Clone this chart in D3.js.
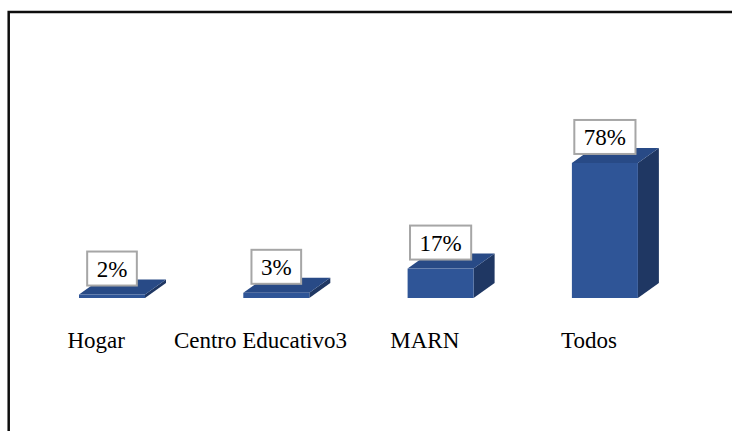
<!DOCTYPE html>
<html>
<head>
<meta charset="utf-8">
<script src="https://cdn.jsdelivr.net/npm/d3@7"></script>
<style>
  body { margin: 0; background: #fff; }
  svg { display: block; }
</style>
</head>
<body>
<script>
// chart data
var categories = ["Hogar", "Centro Educativo3", "MARN", "Todos"];
var values = [2, 3, 17, 78];
var valueLabels = ["2%", "3%", "17%", "78%"];

var width = 732, height = 431;
var depthX = 21, depthY = -15;   // 3d offset of the bars
var barW = 66;
var font = "'Liberation Serif'";

var svg = d3.select("body").append("svg")
    .attr("width", width)
    .attr("height", height);

// outer frame (runs off the right and bottom edge)
svg.append("rect")
    .attr("x", 8.7).attr("y", 12)
    .attr("width", 800).attr("height", 500)
    .attr("fill", "none")
    .attr("stroke", "#0d0d0d")
    .attr("stroke-width", 2.5);

var x = d3.scaleBand()
    .domain(categories)
    .range([14, 671.2])
    .padding(0);

var y = d3.scaleLinear()
    .domain([0, 80])
    .range([298, 159.5]);

var data = categories.map(function(c, i) {
    return { cat: c, value: values[i], label: valueLabels[i] };
});

var bar = svg.selectAll(".bar")
    .data(data)
    .enter()
    .append("g")
    .attr("class", "bar");

function pts(arr) {
    return arr.map(function(p) { return p.join(","); }).join(" ");
}

// side face
bar.append("polygon")
    .attr("points", function(d) {
        var x0 = x(d.cat) + 65, x1 = x0 + barW, yt = y(d.value), yb = y(0);
        return pts([[x1, yt], [x1 + depthX, yt + depthY], [x1 + depthX, yb + depthY], [x1, yb]]);
    })
    .attr("fill", "#1f3763");

// top face
bar.append("polygon")
    .attr("points", function(d) {
        var x0 = x(d.cat) + 65, x1 = x0 + barW, yt = y(d.value);
        return pts([[x0, yt], [x0 + depthX, yt + depthY], [x1 + depthX, yt + depthY], [x1, yt]]);
    })
    .attr("fill", "#284a86");

// front face
bar.append("rect")
    .attr("x", function(d) { return x(d.cat) + 65; })
    .attr("y", function(d) { return y(d.value); })
    .attr("width", barW)
    .attr("height", function(d) { return y(0) - y(d.value); })
    .attr("fill", "#2f5597");

// value labels in boxes
var lab = svg.selectAll(".vlabel")
    .data(data)
    .enter()
    .append("g")
    .attr("class", "vlabel")
    .attr("transform", function(d) {
        return "translate(" + (x(d.cat) + 65 + barW / 2) + "," + (y(d.value) - 8) + ")";
    });

lab.append("text")
    .attr("x", 0)
    .attr("y", -10)
    .attr("text-anchor", "middle")
    .style("font-family", font)
    .style("font-size", "23px")
    .attr("fill", "#000")
    .text(function(d) { return d.label; })
    .each(function(d) { d.tw = this.getComputedTextLength(); });

lab.insert("rect", "text")
    .attr("x", function(d) { return -(d.tw / 2 + 9.5); })
    .attr("y", -35)
    .attr("width", function(d) { return d.tw + 19; })
    .attr("height", 34)
    .attr("fill", "#fff")
    .attr("stroke", "#a6a6a6")
    .attr("stroke-width", 2);

// category labels
svg.selectAll(".cat")
    .data(categories)
    .enter()
    .append("text")
    .attr("class", "cat")
    .attr("x", function(d) { return x(d) + x.bandwidth() / 2; })
    .attr("y", 348)
    .attr("text-anchor", "middle")
    .style("font-family", font)
    .style("font-size", "23px")
    .attr("fill", "#000")
    .text(function(d) { return d; });
</script>
</body>
</html>
